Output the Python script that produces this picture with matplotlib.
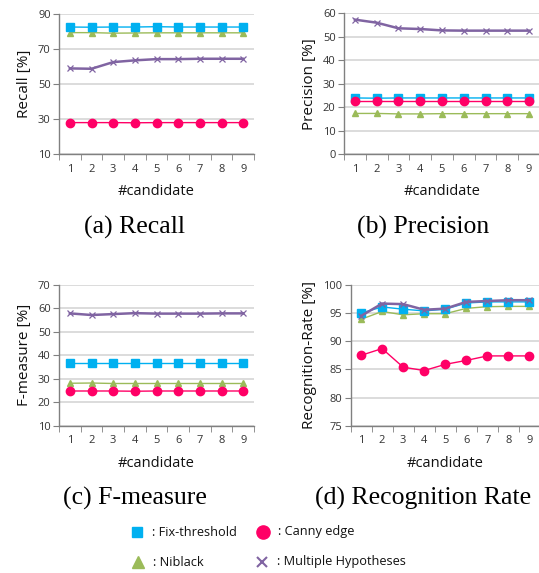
import matplotlib
matplotlib.use("Agg")
import matplotlib.pyplot as plt
from matplotlib.lines import Line2D

candidates = [1, 2, 3, 4, 5, 6, 7, 8, 9]

recall_fix = [82.4, 82.3, 82.4, 82.4, 82.6, 82.4, 82.4, 82.4, 82.4]
recall_niblack = [79.2, 79.2, 78.9, 79.0, 79.1, 79.1, 79.1, 79.1, 79.1]
recall_canny = [27.9, 27.9, 27.9, 27.8, 27.9, 27.9, 27.9, 27.9, 27.9]
recall_mh = [58.8, 58.6, 62.4, 63.4, 64.1, 64.1, 64.3, 64.3, 64.3]

prec_fix = [23.9, 23.8, 23.9, 23.9, 23.9, 23.9, 23.9, 23.9, 23.9]
prec_niblack = [17.3, 17.3, 17.1, 17.1, 17.2, 17.2, 17.2, 17.2, 17.2]
prec_canny = [22.5, 22.5, 22.5, 22.5, 22.5, 22.5, 22.5, 22.5, 22.5]
prec_mh = [57.3, 56.0, 53.6, 53.3, 52.7, 52.6, 52.6, 52.6, 52.6]

f_fix = [36.6, 36.6, 36.6, 36.6, 36.6, 36.6, 36.6, 36.6, 36.6]
f_niblack = [28.1, 28.2, 28.0, 28.0, 28.0, 28.0, 28.0, 28.0, 28.0]
f_canny = [24.8, 24.8, 24.8, 24.7, 24.8, 24.8, 24.8, 24.8, 24.8]
f_mh = [57.9, 57.2, 57.6, 58.0, 57.8, 57.8, 57.8, 57.9, 57.9]

rr_fix = [95.0, 96.1, 95.7, 95.4, 95.7, 96.8, 97.0, 97.0, 97.0]
rr_niblack = [93.9, 95.3, 94.7, 94.9, 94.9, 95.85, 96.15, 96.2, 96.2]
rr_canny = [87.5, 88.7, 85.4, 84.8, 85.9, 86.6, 87.4, 87.4, 87.4]
rr_mh = [94.5, 96.7, 96.6, 95.6, 95.8, 97.0, 97.15, 97.3, 97.3]

series_names = ["Fix-threshold", "Canny edge", "Niblack", "Multiple Hypotheses"]
captions = ["(a) Recall", "(b) Precision", "(c) F-measure", "(d) Recognition Rate"]
ylabels = ["Recall [%]", "Precision [%]", "F-measure [%]", "Recognition-Rate [%]"]

C_FIX = "#00B0F0"
C_CANNY = "#FF0066"
C_NIB = "#9BBB59"
C_MH = "#8064A2"

SANS = ["Open Sans", "DejaVu Sans"]
SERIF = ["Liberation Serif", "DejaVu Serif"]

W, H = 539, 573
fig = plt.figure(figsize=(W / 100, H / 100), dpi=100)

def ax_rect(left, right, top, bottom):
    return [left / W, 1 - bottom / H, (right - left) / W, (bottom - top) / H]

panels = [
    (ax_rect(59, 254, 13.7, 154), (10, 90), [10, 30, 50, 70, 90],
     recall_fix, recall_canny, recall_niblack, recall_mh),
    (ax_rect(344, 540, 13.3, 154), (0, 60), [0, 10, 20, 30, 40, 50, 60],
     prec_fix, prec_canny, prec_niblack, prec_mh),
    (ax_rect(59, 254, 285, 425.7), (10, 70), [10, 20, 30, 40, 50, 60, 70],
     f_fix, f_canny, f_niblack, f_mh),
    (ax_rect(350.5, 540, 285, 425.7), (75, 100), [75, 80, 85, 90, 95, 100],
     rr_fix, rr_canny, rr_niblack, rr_mh),
]

for i, (rect, ylim, yticks, fix, canny, nib, mh) in enumerate(panels):
    ax = fig.add_axes(rect)
    ax.set_xlim(0.5, 9.5)
    ax.set_ylim(*ylim)
    ax.set_yticks(yticks)
    ax.set_xticks(candidates)
    ax.set_xticks([k + 0.5 for k in range(0, 10)], minor=True)
    ax.tick_params(axis="x", which="major", length=0, labelsize=8, colors="#333333", pad=7)
    ax.tick_params(axis="x", which="minor", length=4, direction="out", color="#808080")
    ax.tick_params(axis="y", which="major", length=4, direction="out", color="#808080",
                   labelsize=8, labelcolor="#333333", pad=2)
    for lab in ax.get_xticklabels() + ax.get_yticklabels():
        lab.set_family(SANS)
    ax.grid(axis="y", color="#D9D9D9", linewidth=1.3)
    ax.set_axisbelow(True)
    for s in ["top", "right"]:
        ax.spines[s].set_visible(False)
    for s in ["left", "bottom"]:
        ax.spines[s].set_color("#808080")
        ax.spines[s].set_linewidth(1.0)
    ax.plot(candidates, nib, color=C_NIB, marker="^", markersize=4, linewidth=1.0, zorder=3)
    ax.plot(candidates, fix, color=C_FIX, marker="s", markersize=5.5, linewidth=1.0, zorder=4)
    ax.plot(candidates, canny, color=C_CANNY, marker="o", markersize=6, linewidth=1.0, zorder=4)
    ax.plot(candidates, mh, color=C_MH, marker="x", markersize=5, markeredgewidth=0.9,
            linewidth=1.8, zorder=5)
    ax.set_ylabel(ylabels[i], fontsize=11, family=SANS, color="#111111", labelpad=4)
    ax.set_xlabel("#candidate", fontsize=10.5, family=SANS, color="#111111", labelpad=7)

cap_pos = [(135, 227), (423, 227), (135, 498), (423, 498)]
for (cx, cy), txt in zip(cap_pos, captions):
    fig.text(cx / W, 1 - cy / H, txt, ha="center", va="center", fontsize=18.5, family=SERIF)

# legend
leg_items = [
    (137, 532, "s", C_FIX, 7, 1.0, series_names[0]),
    (263, 532, "o", C_CANNY, 9.5, 1.0, series_names[1]),
    (138, 562, "^", C_NIB, 9, 1.0, series_names[2]),
    (262, 562, "x", C_MH, 6.5, 1.5, series_names[3]),
]
for x, y, m, c, ms, mew, name in leg_items:
    fig.add_artist(Line2D([x / W], [1 - y / H], marker=m, color=c, markersize=ms,
                          markeredgewidth=mew, linestyle="none",
                          transform=fig.transFigure))
    fig.text((x + 15) / W, 1 - y / H, ": " + name, ha="left", va="center",
             fontsize=9.2, family=SANS, color="#111111")

fig.savefig("out.png", dpi=100)
